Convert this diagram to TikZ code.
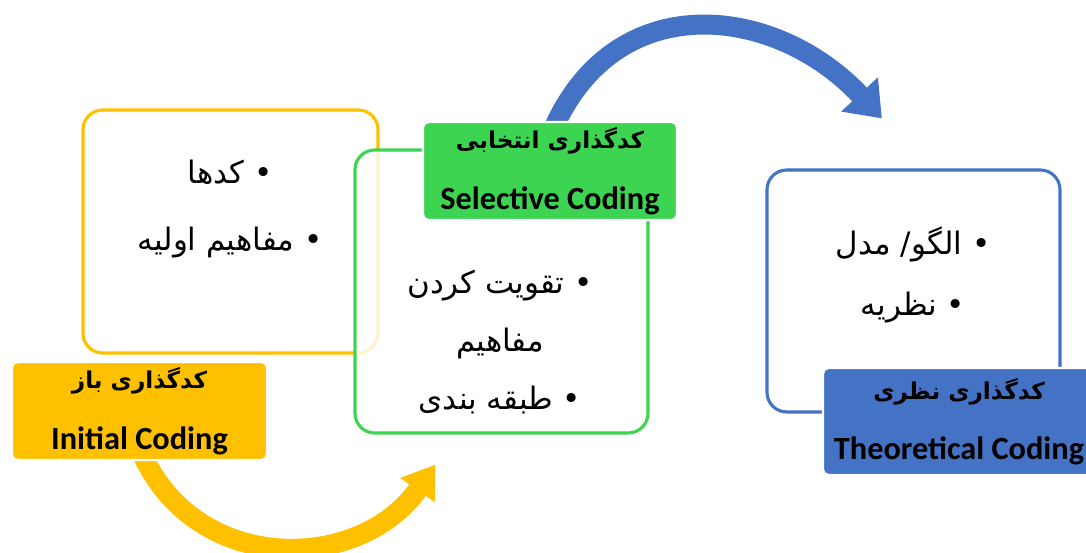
\documentclass[tikz,border=0pt]{standalone}
\usepackage{fontspec}
\setmainfont{Carlito}
\newfontfamily\arabicfont[Script=Arabic]{DejaVu Sans}
\TeXXeTstate=1
\usetikzlibrary{arrows.meta}
\pgfdeclarelayer{bg}
\pgfsetlayers{bg,main}
\definecolor{codeyellow}{HTML}{FFC000}
\definecolor{codegreen}{HTML}{3DD451}
\definecolor{codeblue}{HTML}{4472C4}
\newcommand{\rtl}[1]{\beginR #1\endR}

\begin{document}
\begin{tikzpicture}[
  frame/.style={draw=#1, line width=2.2pt, rounded corners=14pt, fill=white,
                inner sep=0pt},
  tag/.style={fill=#1, draw=white, line width=1.5pt, rounded corners=4pt,
              align=center, inner sep=0pt,
              font=\fontsize{23}{43}\selectfont\bfseries},
  items/.style={align=center, inner sep=0pt,
                font=\arabicfont\fontsize{22}{#1}\selectfont},
  bend/.style={draw=#1, line width=0.5cm},
]
\useasboundingbox (0,0) rectangle (27.15,13.825);
% boxes
\node[frame=codeyellow, minimum width=7.375cm, minimum height=6.075cm]
  (ybox) at (5.7625, 8.0375) {};
\node[frame=codegreen, fill opacity=0.8, minimum width=7.325cm,
  minimum height=7.075cm] (gbox) at (12.5375, 6.5375) {};
\node[frame=codeblue, minimum width=7.325cm, minimum height=6.05cm]
  (bbox) at (22.8375, 6.55) {};
% items
\node[items=48pt] (ytext) at (5.75, 8.6)
  {\rtl{• کدها}\\ \rtl{• مفاهیم اولیه}};
\node[items=41pt] (gtext) at (12.5, 5.275)
  {\rtl{• تقویت کردن}\\ \rtl{مفاهیم}\\ \rtl{• طبقه بندی}};
\node[items=43pt] (btext) at (22.825, 6.95)
  {\rtl{• الگو/ مدل}\\ \rtl{• نظریه}};
% labels
\node[tag=codeyellow, minimum width=6.375cm, minimum height=2.45cm]
  (ylab) at (3.4875, 3.55)
  {{\arabicfont\fontsize{16.5}{18}\selectfont\rtl{کدگذاری باز}}\\ Initial Coding};
\node[tag=codegreen, minimum width=6.35cm, minimum height=2.45cm]
  (glab) at (13.75, 9.55)
  {{\arabicfont\fontsize{16.5}{18}\selectfont\rtl{کدگذاری انتخابی}}\\ Selective Coding};
\node[tag=codeblue, minimum width=6.8cm, minimum height=2.675cm]
  (blab) at (23.975, 3.2875)
  {{\arabicfont\fontsize{16.5}{18}\selectfont\rtl{کدگذاری نظری}}\\ Theoretical Coding};
% curved arrows behind
\begin{pgfonlayer}{bg}
\draw[bend=codeyellow, -{Triangle[width=1cm, length=0.78cm]}]
  ([shift={(0.09,0.125)}]ylab.south) to[out=-65, in=-125, looseness=1.15]
  ([shift={(2.05,-0.75)}]gbox.south west);
\draw[bend=codeblue, -{Triangle[width=1.2cm, length=0.82cm]}]
  ([shift={(0.125,-0.1)}]glab.north) to[out=65, in=133, looseness=1.2]
  ([shift={(-0.79,1.25)}]bbox.north);
\end{pgfonlayer}
\end{tikzpicture}
\end{document}
